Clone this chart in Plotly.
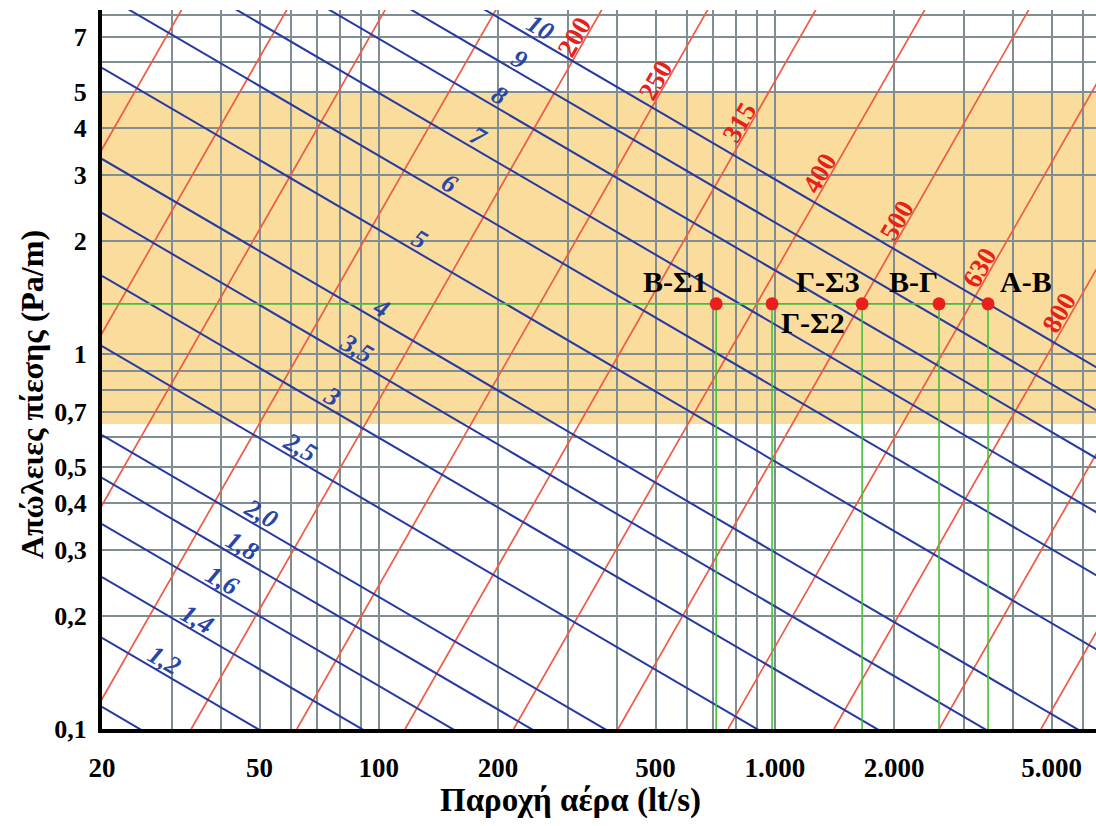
import numpy as np
import plotly.graph_objects as go

# ---------------- data ----------------
x_tick_vals = [20, 30, 40, 50, 60, 70, 80, 90, 100, 200, 300, 400, 500, 600, 700, 800, 900,
               1000, 2000, 3000, 4000, 5000, 6000]
x_tick_text = ["20", "", "", "50", "", "", "", "", "100", "200", "", "", "500", "", "", "", "",
               "1.000", "2.000", "", "", "5.000", ""]
y_tick_vals = [0.1, 0.2, 0.3, 0.4, 0.5, 0.6, 0.7, 0.8, 0.9, 1, 2, 3, 4, 5, 6, 7, 8]
y_tick_text = ["0,1", "0,2", "0,3", "0,4", "0,5", "", "0,7", "", "", "1", "2", "3", "4", "5", "", "7", ""]

# velocity lines (m/s): pressure loss read at Q = 20 lt/s and at Q = 7000 lt/s
vel_labels = ["", "1,2", "1,4", "1,6", "1,8", "2,0", "2,5", "3", "3,5", "4", "5", "6", "7", "8", "9", "10"]
vel_r_q20 = [0.1145, 0.175, 0.254, 0.352, 0.467, 0.608, 1.05, 1.615, 2.377, 3.31, 5.79, 9.12,
             13.4, 18.7, 25.1, 32.7]
vel_r_q7000 = [0.00308, 0.0047, 0.00684, 0.00946, 0.01256, 0.01633, 0.0282, 0.0434, 0.0639,
               0.089, 0.1556, 0.245, 0.361, 0.503, 0.675, 0.879]
vel_label_q = [None, 28.8, 34.9, 40.2, 45.4, 50.4, 63.3, 76.2, 88.1, 101, 127, 151, 178, 202, 227, 255]

# diameter lines (mm): flow read at R = 0.1 Pa/m and at R = 10 Pa/m
diam_labels = ["", "", "", "", "200", "250", "315", "400", "500", "630", "800", "", ""]
diam_q_r01 = [2.92, 5.37, 9.51, 18.1, 33.6, 62.1, 116.5, 219, 402, 762, 1410, 2600, 4700]
diam_q_r10 = [35.2, 64.9, 115, 219, 405, 750, 1406, 2650, 4850, 9200, 17000, 31400, 56800]
diam_label_r = [None, None, None, None, 7.0, 5.38, 4.15, 3.04, 2.28, 1.706, 1.29, None, None]

# duct sections at the design pressure loss
section_names = ["Β-Σ1", "Γ-Σ2", "Γ-Σ3", "Β-Γ", "Α-Β"]
section_q = [711, 984, 1661, 2598, 3455]
design_loss = 1.36

# recommended band
band_low = 0.65
band_high = 5.0

# ---------------- styles ----------------
BLUE = "rgb(38,58,160)"
BLUE_TXT = "rgb(40,70,170)"
RED = "rgb(236,92,68)"
RED_TXT = "rgb(232,32,26)"
GREEN = "rgb(70,190,60)"
GRID = "rgb(126,142,146)"
BAND = "rgb(250,220,156)"
SERIF = "Liberation Serif"
section_shift = [(-41, 22), (41, -19), (-34, 22), (-26, 22), (38, 22)]

x_min = np.log10(20)
x_max = 3.811
y_min = -1.0
y_max = 0.917

fig = go.Figure()

# red (diameter) lines
for q1, q2 in zip(diam_q_r01, diam_q_r10):
    fig.add_trace(go.Scatter(x=[q1, q2], y=[0.1, 10], mode="lines",
                             line=dict(color=RED, width=1.7), hoverinfo="skip", showlegend=False))

# blue (velocity) lines
for r1, r2 in zip(vel_r_q20, vel_r_q7000):
    fig.add_trace(go.Scatter(x=[20, 7000], y=[r1, r2], mode="lines",
                             line=dict(color=BLUE, width=2), hoverinfo="skip", showlegend=False))

# green design lines
gx = [20, max(section_q)]
gy = [design_loss, design_loss]
for q in section_q:
    gx += [None, q, q]
    gy += [None, 0.1, design_loss]
fig.add_trace(go.Scatter(x=gx, y=gy, mode="lines", line=dict(color=GREEN, width=1.6),
                         hoverinfo="skip", showlegend=False))

fig.add_trace(go.Scatter(x=section_q, y=[design_loss] * len(section_q), mode="markers",
                         marker=dict(color="rgb(235,30,30)", size=13),
                         hoverinfo="skip", showlegend=False))

annotations = []
# blue labels
lq20, lq7000 = np.log10(20), np.log10(7000)
for lab, r1, r2, q in zip(vel_labels, vel_r_q20, vel_r_q7000, vel_label_q):
    if not lab:
        continue
    lq = np.log10(q)
    lr = np.log10(r1) + (lq - lq20) * (np.log10(r2) - np.log10(r1)) / (lq7000 - lq20)
    annotations.append(dict(x=lq, y=lr, xref="x", yref="y", text="<b><i>%s</i></b>" % lab,
                            showarrow=False, textangle=30, yshift=14,
                            font=dict(family=SERIF, size=26, color=BLUE_TXT)))
# red labels
for lab, q1, q2, r in zip(diam_labels, diam_q_r01, diam_q_r10, diam_label_r):
    if not lab:
        continue
    lr = np.log10(r)
    lq = np.log10(q1) + (lr + 1) * (np.log10(q2) - np.log10(q1)) / 2.0
    annotations.append(dict(x=lq, y=lr, xref="x", yref="y", text="<b>%s</b>" % lab,
                            showarrow=False, textangle=-60, xshift=-12,
                            font=dict(family=SERIF, size=27, color=RED_TXT)))
# section labels
for name, q, (dx, dy) in zip(section_names, section_q, section_shift):
    annotations.append(dict(x=np.log10(q), y=np.log10(design_loss), xref="x", yref="y",
                            text="<b>%s</b>" % name, showarrow=False, xshift=dx, yshift=dy,
                            xanchor="center", yanchor="middle",
                            font=dict(family=SERIF, size=30, color="black")))
# axis titles
annotations.append(dict(x=0.471, y=0, xref="paper", yref="paper", yshift=-71,
                        xanchor="center", yanchor="middle",
                        text="<b>Παροχή αέρα (lt/s)</b>", showarrow=False,
                        font=dict(family=SERIF, size=33, color="black")))
annotations.append(dict(x=-0.0704, y=0.4645, xref="paper", yref="paper", textangle=-90,
                        xanchor="center", yanchor="middle",
                        text="<b>Απώλειες πίεσης (Pa/m)</b>", showarrow=False,
                        font=dict(family=SERIF, size=32, color="black")))

fig.update_layout(
    width=1096, height=826,
    margin=dict(l=102, r=0, t=10, b=97),
    paper_bgcolor="white", plot_bgcolor="white",
    showlegend=False,
    annotations=annotations,
    shapes=[dict(type="rect", xref="paper", x0=0, x1=1, yref="y", y0=band_low, y1=band_high,
                 fillcolor=BAND, line=dict(width=0), layer="below")],
    xaxis=dict(type="log", range=[x_min, x_max], tickmode="array", tickvals=x_tick_vals,
               ticktext=x_tick_text, showgrid=True, gridcolor=GRID, gridwidth=1.5,
               showline=True, linecolor="black", linewidth=4, ticks="", zeroline=False,
               ticklabelstandoff=12, automargin=False,
               tickfont=dict(family=SERIF, size=27, color="black", weight="bold")),
    yaxis=dict(type="log", range=[y_min, y_max], tickmode="array", tickvals=y_tick_vals,
               ticktext=y_tick_text, showgrid=True, gridcolor=GRID, gridwidth=1.5,
               showline=True, linecolor="black", linewidth=4, ticks="", zeroline=False,
               ticklabelstandoff=6, automargin=False,
               tickfont=dict(family=SERIF, size=26, color="black", weight="bold")),
)

fig.write_html("out.html", config={"displayModeBar": False},
               post_script="document.body.style.margin='0';document.body.style.overflow='hidden';")
